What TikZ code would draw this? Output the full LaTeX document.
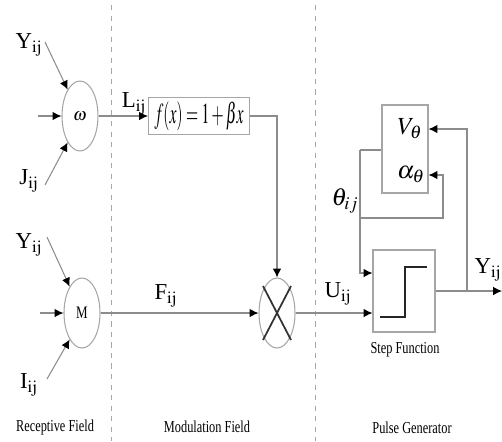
\documentclass[tikz,border=0pt]{standalone}
\usepackage{mathptmx}
\usepackage{fontspec}
\setmainfont{Liberation Serif}
\usepackage{graphicx}
\usepackage{tikz}
\usetikzlibrary{arrows.meta,positioning,calc,shapes.geometric}
\usepackage{xcolor}
\definecolor{lgray}{HTML}{8C8C8C}
\definecolor{cgray}{HTML}{A6A6A6}
\newcommand{\nrw}[1]{\scalebox{0.74}[1]{#1}}

\begin{document}
\begin{tikzpicture}[x=0.02cm,y=-0.02cm,
  wire/.style={draw=lgray,line width=0.6pt},
  arr/.style={wire,-{Latex[length=5pt,width=4.8pt,color=black]}},
  cell/.style={draw=cgray,line width=0.6pt,ellipse,minimum width=0.72cm,minimum height=1.4cm,inner sep=0pt,font=\fontsize{10}{12}\selectfont},
  blk/.style={draw=cgray,line width=0.6pt,rectangle,inner sep=0pt},
  siglbl/.style={font=\fontsize{13}{15}\selectfont,inner sep=0pt},
  mathlbl/.style={font=\fontsize{14}{16}\selectfont,inner sep=0pt},
  fieldlbl/.style={font=\fontsize{9.5}{11}\selectfont,inner sep=0pt},
  xmark/.style={draw=black!80,line width=1pt},
  stepline/.style={draw=black!85,line width=1.4pt},
  divider/.style={draw=cgray,dashed,line width=0.5pt}]
\useasboundingbox (0,0) rectangle (502,441);
% field dividers
\draw[divider] (111,5) -- (111,441);
\draw[divider] (315,5) -- (315,441);
% receptive field
\node[cell] (om) at (80,116) {$\omega$};
\node[cell] (mm) at (82,313) {\nrw{M}};
\node[siglbl] (y1) at (29,45) {Y$_{\mathrm{ij}}$};
\node[siglbl] (j1) at (29,181) {J$_{\mathrm{ij}}$};
\node[siglbl] (y2) at (29,245) {Y$_{\mathrm{ij}}$};
\node[siglbl] (i2) at (29,385) {I$_{\mathrm{ij}}$};
\coordinate (ya) at (45,42);
\coordinate (wa) at (38,116);
\coordinate (ja) at (45,185);
\coordinate (yb) at (47,237);
\coordinate (ma) at (40,313);
\coordinate (ib) at (47,379);
\draw[arr] (ya) -- (om.115);
\draw[arr] (wa) -- (om.west);
\draw[arr] (ja) -- (om.245);
\draw[arr] (yb) -- (mm.115);
\draw[arr] (ma) -- (mm.west);
\draw[arr] (ib) -- (mm.245);
% modulation field
\node[blk,minimum width=2.02cm,minimum height=0.74cm,font=\fontsize{16.5}{18}\selectfont] (fbox) at (199,116) {\scalebox{0.54}[1]{$f(x)=1+\beta x$}};
\node[cell] (mult) at (277,313) {};
\draw[xmark] ($(mult.center)+(-14,-27)$) -- ($(mult.center)+(14,27)$);
\draw[xmark] ($(mult.center)+(14,-27)$) -- ($(mult.center)+(-14,27)$);
\node[siglbl] (lij) at (134,104) {L$_{\mathrm{ij}}$};
\node[siglbl] (fij) at (166,296) {F$_{\mathrm{ij}}$};
\draw[arr] (om) -- (fbox);
\draw[arr] (fbox.east) -| (mult.north);
\draw[arr] (mm) -- (mult);
% pulse generator
\node[blk,minimum width=0.92cm,minimum height=1.76cm] (vbox) at (405,149) {};
\node[mathlbl] (vth) at (410,129) {$V_\theta$};
\node[mathlbl] (ath) at (411,175) {$\alpha_\theta$};
\node[blk,minimum width=1.24cm,minimum height=1.64cm] (sbox) at (404,291) {};
\draw[stepline] ($(sbox.center)+(-24,26)$) -- ++(25,0) -- ++(0,-50) -- ++(22,0);
\node[siglbl] (uij) at (338,294) {U$_{\mathrm{ij}}$};
\node[siglbl] (yij) at (488,270) {Y$_{\mathrm{ij}}$};
\node[mathlbl] (thij) at (345,201) {$\theta_{ij}$};
\coordinate (yend) at (502,291);
\coordinate (br) at (467,291);
\coordinate (tl) at (360,150);
\coordinate (tb) at (360,218);
\coordinate (ar) at (443,218);
\draw[arr] (mult.east) -- (mult.east -| sbox.west);
\draw[arr] (sbox) -- (yend);
\draw[arr] (br) |- (vbox.east |- vth);
\draw[wire] (vbox.west |- tl) -- (tl);
\draw[arr] (tl) |- ($(sbox.west)+(0,-18)$);
\draw[arr] (tb) -- (ar) |- (vbox.east |- ath);
% field names
\node[fieldlbl] (sf) at (405,350) {\nrw{Step Function}};
\node[fieldlbl] (rf) at (55,427) {\nrw{Receptive Field}};
\node[fieldlbl] (mf) at (207,427) {\nrw{Modulation Field}};
\node[fieldlbl] (pg) at (412,428) {\nrw{Pulse Generator}};
\end{tikzpicture}
\end{document}
